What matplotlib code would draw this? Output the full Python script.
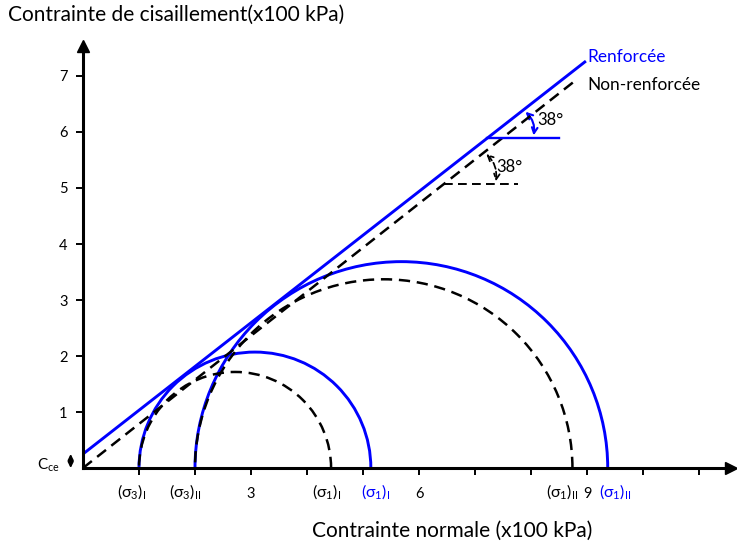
import numpy as np
import matplotlib
matplotlib.use('Agg')
import matplotlib.pyplot as plt
from matplotlib.patches import Arc, FancyArrowPatch

plt.rcParams['font.family'] = ['Lato', 'DejaVu Sans']
plt.rcParams['mathtext.fontset'] = 'custom'
plt.rcParams['mathtext.rm'] = 'Lato'
plt.rcParams['mathtext.it'] = 'Lato:italic'

# cercles de Mohr (x100 kPa)
sig3_nr = [1.0, 2.0]      # non-renforcee
sig1_nr = [4.43, 8.74]
sig3_r = [1.0, 2.0]       # renforcee
sig1_r = [5.14, 9.37]

# enveloppes de rupture
c_r, phi_r = 0.25, 38.0
c_nr, phi_nr = 0.0, 38.2
x_end_r, x_end_nr = 8.96, 8.82

# marqueurs d'angle (niveau de la ligne horizontale)
y_ang_r, x_hend_r = 5.89, 8.5
y_ang_nr, x_hend_nr = 5.07, 7.77

blue = '#0000ff'
dash = (0, (4.5, 2.7))
px = 56.0   # pixels par unite

fig = plt.figure(figsize=(7.37, 5.42), dpi=100)
ax = fig.add_axes([83/737, 74/542, 648/737, 422/542])
ax.set_xlim(0, 648/px)
ax.set_ylim(0, 422/px)

# cercles
for s3, s1 in zip(sig3_r, sig1_r):
    ax.add_patch(Arc(((s1+s3)/2, 0), s1-s3, s1-s3, theta1=0, theta2=180,
                     color=blue, lw=2.1))
for s3, s1 in zip(sig3_nr, sig1_nr):
    ax.add_patch(Arc(((s1+s3)/2, 0), s1-s3, s1-s3, theta1=0, theta2=180,
                     color='black', lw=1.8, linestyle=dash))

# enveloppes
xr = np.array([0, x_end_r])
ax.plot(xr, c_r + np.tan(np.radians(phi_r))*xr, color=blue, lw=2.1)
xn = np.array([0, x_end_nr])
ax.plot(xn, c_nr + np.tan(np.radians(phi_nr))*xn, color='black', lw=1.8, linestyle=dash)

# angles
def angle_mark(c, phi, y0, xh, col, ls, R, lw):
    x0 = (y0 - c)/np.tan(np.radians(phi))
    ax.plot([x0, xh], [y0, y0], color=col, lw=lw, linestyle=ls)
    p1 = (x0 + R*np.cos(np.radians(phi)), y0 + R*np.sin(np.radians(phi)))
    p2 = (x0 + R, y0)
    ax.add_patch(FancyArrowPatch(p1, p2, connectionstyle='arc3,rad=-0.3',
                                 arrowstyle='<->', mutation_scale=10,
                                 color=col, lw=lw*0.9, linestyle='-' if ls == '-' else '--'))

angle_mark(c_r, phi_r, y_ang_r, x_hend_r, blue, '-', 0.82, 1.7)
angle_mark(c_nr, phi_nr, y_ang_nr, x_hend_nr, 'black', dash, 0.92, 1.4)
ax.text(8.34, 6.21, '38°', fontsize=12, ha='center', va='center')
ax.text(7.62, 5.38, '38°', fontsize=12, ha='center', va='center')

ax.text(9.0, 7.34, 'Renforcée', color=blue, fontsize=12.4, va='center')
ax.text(9.0, 6.84, 'Non-renforcée', color='black', fontsize=12.4, va='center')

# axes
for s in ['top', 'right']:
    ax.spines[s].set_visible(False)
for s in ['left', 'bottom']:
    ax.spines[s].set_linewidth(2.2)
ax.plot([0], [1], marker='^', markersize=9, color='black', transform=ax.transAxes, clip_on=False)
ax.plot([1], [0], marker='>', markersize=9, color='black', transform=ax.transAxes, clip_on=False)

ax.set_xticks(range(1, 12))
ax.set_xticklabels(['', '', '3', '', '', '6', '', '', '9', '', ''])
ax.set_yticks(range(1, 8))
ax.tick_params(axis='both', length=5, width=1.4, labelsize=10.5)
ax.tick_params(axis='x', pad=9)
ax.tick_params(axis='y', pad=6)

# etiquettes sigma
tr = ax.get_xaxis_transform()
yl = -24/422
lab = [(sig3_nr[0] - 0.13, r'(σ$_3$)$_\mathrm{I}$', 'black'),
       (sig3_nr[1] - 0.18, r'(σ$_3$)$_\mathrm{II}$', 'black'),
       (sig1_nr[0] - 0.08, r'(σ$_1$)$_\mathrm{I}$', 'black'),
       (sig1_r[0] + 0.09, r'(σ$_1$)$_\mathrm{I}$', blue),
       (sig1_nr[1] - 0.19, r'(σ$_1$)$_\mathrm{II}$', 'black'),
       (sig1_r[1] + 0.13, r'(σ$_1$)$_\mathrm{II}$', blue)]
for x, t, col in lab:
    ax.text(x, yl, t, transform=tr, ha='center', va='center', fontsize=11.5, color=col)

# c_ce
ax.annotate('', xy=(-0.22, 0), xytext=(-0.22, c_r),
            arrowprops=dict(arrowstyle='<|-|>', color='black', lw=1.3, mutation_scale=8,
                            shrinkA=0, shrinkB=0),
            annotation_clip=False)
ax.text(-0.42, 0.04, r'C$_\mathrm{ce}$', ha='right', va='center', fontsize=11)

fig.text(8/737, 1 - 15/542, 'Contrainte de cisaillement(x100 kPa)', fontsize=15, va='center')
fig.text(452/737, 1 - 531/542, 'Contrainte normale (x100 kPa)', fontsize=15, ha='center', va='center')

fig.savefig('out.png', dpi=100)
